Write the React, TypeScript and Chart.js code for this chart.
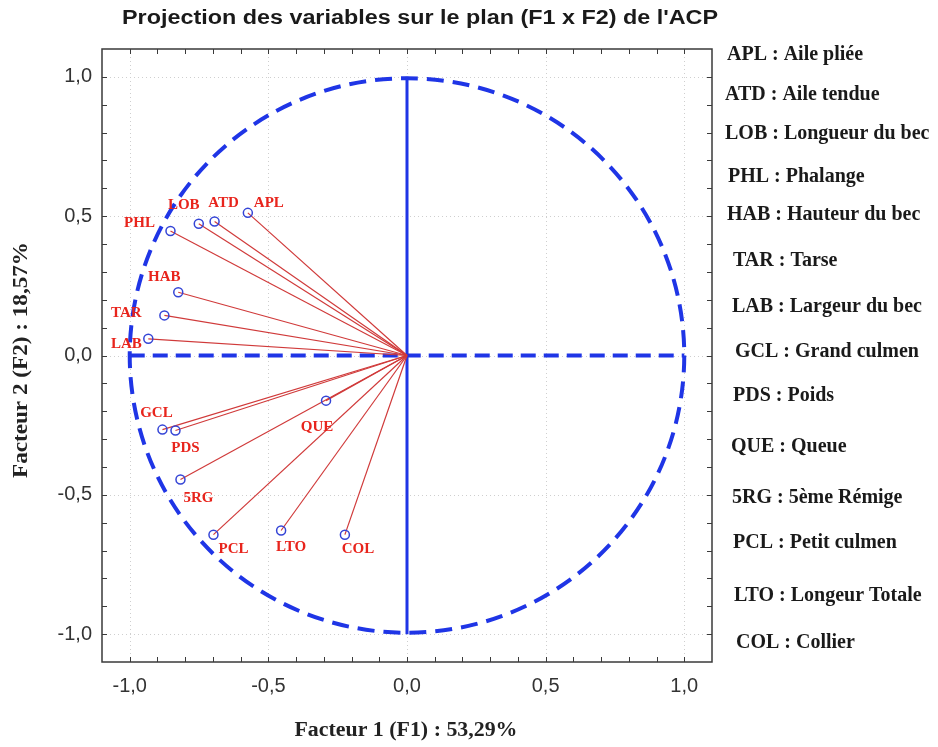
import { useEffect, useRef } from 'react';
import { Chart, registerables } from 'chart.js';

Chart.register(...registerables);

const variables = ['APL', 'ATD', 'LOB', 'PHL', 'HAB', 'TAR', 'LAB', 'GCL', 'PDS', 'QUE', '5RG', 'PCL', 'LTO', 'COL'];
const factor1 = [-0.574, -0.694, -0.751, -0.853, -0.825, -0.875, -0.933, -0.882, -0.835, -0.292, -0.817, -0.698, -0.454, -0.224];
const factor2 = [0.512, 0.481, 0.473, 0.447, 0.227, 0.144, 0.060, -0.266, -0.269, -0.162, -0.445, -0.643, -0.628, -0.643];
const legendLines = [
  'APL : Aile pliée',
  'ATD : Aile tendue',
  'LOB : Longueur du bec',
  'PHL : Phalange',
  'HAB : Hauteur du bec',
  'TAR : Tarse',
  'LAB : Largeur du bec',
  'GCL : Grand culmen',
  'PDS : Poids',
  'QUE : Queue',
  '5RG : 5ème Rémige',
  'PCL : Petit culmen',
  'LTO : Longeur Totale',
  'COL : Collier',
];
const tickValues = [-1, -0.5, 0, 0.5, 1];
const titleText = "Projection des variables sur le plan (F1 x F2) de l'ACP";
const xTitle = 'Facteur 1 (F1) : 53,29%';
const yTitle = 'Facteur 2 (F2) : 18,57%';

// layout-only constants (pixel offsets of labels relative to their point)
const labelOffsets = [
  [21, -10], [9, -18], [-15, -19], [-31, -8], [-14, -15], [-38, -2], [-22, 5],
  [-6, -16], [10, 18], [-9, 26], [18, 19], [20, 14], [10, 17], [13, 14],
];
const legendY = [55, 95, 134, 177, 215, 261, 307, 352, 396, 447, 498, 543, 596, 643];
const legendX = [727, 725, 725, 728, 727, 733, 732, 735, 733, 731, 732, 733, 734, 736];

const BLUE = '#1f35e6';
const RED_LINE = '#d03a3a';
const RED_TEXT = '#e8241c';

const fmt = (v: number) => v.toFixed(1).replace('.', ',');

function fitText(ctx: any, text: string, cx: number, cy: number, width: number) {
  const w = ctx.measureText(text).width;
  ctx.save();
  ctx.translate(cx, cy);
  ctx.scale(width / w, 1);
  ctx.fillText(text, 0, 0);
  ctx.restore();
}

const decorPlugin = {
  id: 'decor',
  beforeDatasetsDraw(chart: any) {
    const { ctx, chartArea: a, scales } = chart;
    const xs = scales.x, ys = scales.y;
    ctx.save();
    ctx.strokeStyle = '#cfcfcf';
    ctx.lineWidth = 1;
    ctx.setLineDash([1, 3]);
    tickValues.forEach((v) => {
      const px = Math.round(xs.getPixelForValue(v)) + 0.5;
      const py = Math.round(ys.getPixelForValue(v)) + 0.5;
      ctx.beginPath(); ctx.moveTo(px, a.top); ctx.lineTo(px, a.bottom); ctx.stroke();
      ctx.beginPath(); ctx.moveTo(a.left, py); ctx.lineTo(a.right, py); ctx.stroke();
    });
    const cx = xs.getPixelForValue(0), cy = ys.getPixelForValue(0);
    const r = xs.getPixelForValue(1) - cx;
    ctx.setLineDash([17, 9]);
    ctx.lineWidth = 4;
    ctx.strokeStyle = BLUE;
    ctx.beginPath();
    ctx.arc(cx, cy, r, 0, Math.PI * 2);
    ctx.stroke();
    ctx.restore();
  },
  afterDatasetsDraw(chart: any) {
    const { ctx, chartArea: a, scales } = chart;
    const xs = scales.x, ys = scales.y;
    ctx.save();
    ctx.font = 'bold 15px "Liberation Serif", "Times New Roman", serif';
    ctx.fillStyle = RED_TEXT;
    ctx.textAlign = 'center';
    ctx.textBaseline = 'middle';
    variables.forEach((name, i) => {
      const px = xs.getPixelForValue(factor1[i]);
      const py = ys.getPixelForValue(factor2[i]);
      ctx.fillText(name, px + labelOffsets[i][0], py + labelOffsets[i][1]);
    });
    ctx.strokeStyle = '#3a3a3a';
    ctx.lineWidth = 1.5;
    ctx.setLineDash([]);
    ctx.strokeRect(a.left, a.top, a.right - a.left, a.bottom - a.top);
    ctx.lineWidth = 1;
    for (let k = -10; k <= 10; k++) {
      const v = k / 10;
      const px = Math.round(xs.getPixelForValue(v)) + 0.5;
      const py = Math.round(ys.getPixelForValue(v)) + 0.5;
      ctx.beginPath();
      ctx.moveTo(px, a.top); ctx.lineTo(px, a.top + 5);
      ctx.moveTo(px, a.bottom); ctx.lineTo(px, a.bottom - 5);
      ctx.moveTo(a.left, py); ctx.lineTo(a.left + 5, py);
      ctx.moveTo(a.right, py); ctx.lineTo(a.right - 5, py);
      ctx.stroke();
    }
    ctx.restore();
  },
  afterDraw(chart: any) {
    const { ctx, chartArea: a } = chart;
    ctx.save();
    ctx.fillStyle = '#1a1a1a';
    ctx.font = 'bold 20px "Liberation Sans", Arial, sans-serif';
    ctx.textAlign = 'center';
    ctx.textBaseline = 'middle';
    fitText(ctx, titleText, 420, 18, 596);
    ctx.font = 'bold 20px "Liberation Serif", "Times New Roman", serif';
    ctx.fillStyle = '#222';
    fitText(ctx, xTitle, 406, 731, 223);
    ctx.save();
    ctx.translate(22, 360);
    ctx.rotate(-Math.PI / 2);
    fitText(ctx, yTitle, 0, 0, 236);
    ctx.restore();
    ctx.font = 'bold 20px "Liberation Serif", "Times New Roman", serif';
    ctx.textAlign = 'left';
    ctx.fillStyle = '#1a1a1a';
    legendLines.forEach((t, i) => ctx.fillText(t, legendX[i], legendY[i]));
    ctx.restore();
  },
};

export default function App() {
  const ref = useRef<HTMLCanvasElement | null>(null);
  useEffect(() => {
    if (!ref.current) return;
    const vectorSets = variables.map((name, i) => ({
      type: 'line' as const,
      label: name,
      data: [{ x: 0, y: 0 }, { x: factor1[i], y: factor2[i] }],
      borderColor: RED_LINE,
      borderWidth: 1.2,
      pointRadius: 0,
      fill: false,
      order: 2,
    }));
    const chart = new Chart(ref.current, {
      type: 'scatter',
      data: {
        datasets: [
          {
            type: 'line',
            label: 'axeH',
            data: [{ x: -1, y: 0 }, { x: 1, y: 0 }],
            borderColor: BLUE,
            borderWidth: 4,
            borderDash: [15, 8],
            pointRadius: 0,
            order: 4,
          } as any,
          {
            type: 'line',
            label: 'axeV',
            data: [{ x: 0, y: -1 }, { x: 0, y: 1 }],
            borderColor: BLUE,
            borderWidth: 3,
            pointRadius: 0,
            order: 3,
          } as any,
          ...vectorSets,
          {
            type: 'scatter',
            label: 'variables',
            data: variables.map((_, i) => ({ x: factor1[i], y: factor2[i] })),
            pointRadius: 4.5,
            pointBorderWidth: 1.5,
            pointBorderColor: '#3444d6',
            pointBackgroundColor: 'rgba(255,255,255,0)',
            order: 1,
          } as any,
        ],
      },
      options: {
        responsive: false,
        animation: false,
        layout: { padding: { left: 0, top: 49, right: 226, bottom: 0 } },
        plugins: { legend: { display: false }, tooltip: { enabled: false }, title: { display: false } },
        scales: {
          x: {
            type: 'linear',
            min: -1.1,
            max: 1.1,
            grid: { display: false, drawTicks: false },
            border: { display: false },
            afterBuildTicks: (s: any) => { s.ticks = tickValues.map((v) => ({ value: v })); },
            afterFit: (s: any) => { s.height = 85; },
            ticks: {
              padding: 12,
              color: '#333',
              font: { family: '"Liberation Sans", Arial, sans-serif', size: 20 },
              callback: (v: any) => fmt(Number(v)),
            },
          },
          y: {
            type: 'linear',
            min: -1.1,
            max: 1.1,
            grid: { display: false, drawTicks: false },
            border: { display: false },
            afterBuildTicks: (s: any) => { s.ticks = tickValues.map((v) => ({ value: v })); },
            afterFit: (s: any) => { s.width = 102; },
            ticks: {
              padding: 10,
              color: '#333',
              font: { family: '"Liberation Sans", Arial, sans-serif', size: 20 },
              callback: (v: any) => fmt(Number(v)),
            },
          },
        },
      } as any,
      plugins: [decorPlugin],
    });
    return () => chart.destroy();
  }, []);
  return (
    <canvas
      ref={ref}
      width={938}
      height={747}
      style={{ position: 'absolute', left: 0, top: 0, width: 938, height: 747 }}
    />
  );
}
